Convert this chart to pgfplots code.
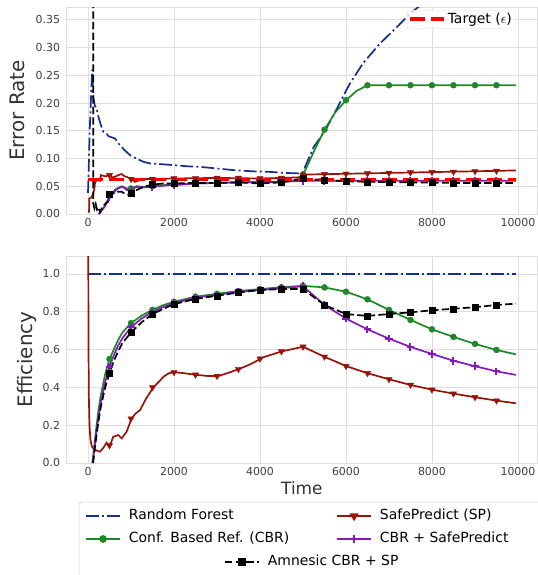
\documentclass[border=0pt]{standalone}
\usepackage{fontspec}
\setmainfont{DejaVu Sans}
\usepackage{pgfplots}
\pgfplotsset{compat=1.18}

\definecolor{rfblue}{RGB}{20,48,140}
\definecolor{cbrgreen}{RGB}{30,135,40}
\definecolor{spred}{RGB}{150,20,10}
\definecolor{cbrsp}{RGB}{135,25,185}
\definecolor{gridgray}{RGB}{222,222,222}

\pgfplotsset{
  panel/.style={
    scale only axis, width=470.6bp, height=207bp,
    xmin=-497.5, xmax=10447.5,
    xtick={0,2000,...,10000},
    scaled x ticks=false, scaled y ticks=false,
    grid=major, grid style={draw=gridgray, line width=0.9bp},
    axis line style={draw=gridgray, line width=0.9bp},
    major tick length=0pt,
    tick label style={font=\fontsize{11}{13}\selectfont, text=black!75},
    /pgf/number format/assume math mode=true,
    /pgf/number format/set thousands separator={},
    xticklabel style={yshift=-1bp, /pgf/number format/fixed},
    yticklabel style={xshift=-3bp},
  },
  ylab/.style={every axis y label/.style={at={(axis description cs:#1,0.5)}, rotate=90, anchor=center,
      font=\fontsize{20}{24}\selectfont, text=black!80}},
  rf/.style={rfblue, line width=1.7bp, dash pattern=on 12.8bp off 3.2bp on 2bp off 3.2bp},
  cbr/.style={cbrgreen, line width=1.7bp},
  sp/.style={spred, line width=1.7bp},
  csp/.style={cbrsp, line width=1.7bp},
  amn/.style={black, line width=1.7bp, dash pattern=on 7.4bp off 3.2bp},
  mcbr/.style={cbrgreen, only marks, mark=*, mark size=3bp},
  msp/.style={spred, only marks, mark=triangle*, mark size=3.6bp, mark options={rotate=180}},
  mcsp/.style={cbrsp, only marks, mark=+, mark size=3.8bp, mark options={line width=2bp}},
  mamn/.style={black, only marks, mark=square*, mark size=3bp},
  legimg/.style={legend image code/.code={\draw[mark repeat=2,mark phase=2,##1] plot coordinates {(0bp,0bp) (17bp,0bp) (34bp,0bp)};}},
}

\begin{document}
\begin{tikzpicture}

% ---- top panel: error rate
\begin{axis}[panel, legimg, ylab=-0.105, at={(66.6bp,-214bp)}, anchor=south west,
  ymin=0, ymax=0.373, ytick={0,0.05,...,0.35},
  yticklabel style={/pgf/number format/fixed, /pgf/number format/fixed zerofill, /pgf/number format/precision=2},
  ylabel={Error Rate},
  legend style={at={(0.7233,0.9855)}, anchor=north west, draw=gridgray, fill=white, fill opacity=0.8, text opacity=1,
    rounded corners=2bp, font=\fontsize{14}{16}\selectfont, inner sep=1bp},
]
\addplot[rf, forget plot] coordinates {(0,0.038) (15,0.075) (40,0.15) (60,0.19) (80,0.23) (100,0.26) (115,0.225) (125,0.21) (160,0.195) (200,0.19) (240,0.176) (300,0.16) (360,0.148) (420,0.146) (480,0.14) (560,0.138) (630,0.136) (700,0.128) (780,0.121) (850,0.115) (980,0.106) (1100,0.101) (1290,0.094) (1450,0.091) (1670,0.090) (2000,0.088) (2300,0.086) (2600,0.085) (3000,0.082) (3400,0.079) (3800,0.077) (4200,0.076) (4600,0.074) (4950,0.073) (5000,0.076) (5250,0.121) (5500,0.148) (5750,0.184) (6000,0.222) (6100,0.236) (6400,0.272) (6800,0.308) (7200,0.338) (7500,0.362) (7800,0.380) (8500,0.41) (9950,0.46)};

\addplot[cbr, forget plot] coordinates {(260,0) (330,0.008) (430,0.02) (500,0.033) (540,0.037) (650,0.045) (783,0.050) (900,0.046) (1000,0.046) (1130,0.050) (1300,0.049) (1500,0.050) (1900,0.053) (2000,0.053) (2500,0.055) (3000,0.056) (3500,0.057) (4000,0.058) (4500,0.058) (4950,0.060) (5000,0.070) (5250,0.112) (5500,0.152) (5750,0.183) (6000,0.205) (6250,0.222) (6500,0.232) (9950,0.232)};
\addplot[mcbr, forget plot] coordinates {(500,0.033) (1000,0.046) (1500,0.050) (2000,0.053) (2500,0.055) (3000,0.056) (3500,0.057) (4000,0.058) (4500,0.058) (5000,0.070) (5500,0.152) (6000,0.205) (6500,0.232) (7000,0.232) (7500,0.232) (8000,0.232) (8500,0.232) (9000,0.232) (9500,0.232)};

\addplot[sp, forget plot] coordinates {(0,0.004) (25,0.004) (30,0.028) (80,0.030) (120,0.036) (150,0.046) (165,0.058) (200,0.060) (240,0.061) (280,0.060) (300,0.070) (400,0.068) (512,0.070) (560,0.066) (628,0.067) (700,0.070) (783,0.072) (850,0.068) (900,0.067) (1000,0.063) (1093,0.058) (1200,0.061) (1287,0.063) (1500,0.063) (2000,0.064) (3000,0.065) (4000,0.064) (4500,0.065) (4900,0.066) (5000,0.071) (6000,0.0725) (7000,0.074) (8000,0.0755) (9000,0.077) (9950,0.0785)};
\addplot[msp, forget plot] coordinates {(500,0.070) (1000,0.063) (1500,0.063) (2000,0.064) (2500,0.064) (3000,0.065) (3500,0.065) (4000,0.064) (4500,0.065) (5000,0.071) (5500,0.0718) (6000,0.0725) (6500,0.073) (7000,0.074) (7500,0.0748) (8000,0.0755) (8500,0.076) (9000,0.077) (9500,0.0778)};

\addplot[csp, forget plot] coordinates {(240,0) (280,0.002) (320,0.007) (380,0.012) (430,0.019) (480,0.028) (500,0.030) (540,0.035) (590,0.037) (650,0.043) (705,0.046) (783,0.049) (850,0.047) (900,0.043) (1000,0.044) (1130,0.049) (1300,0.048) (1440,0.049) (1500,0.049) (1900,0.052) (2000,0.052) (2500,0.055) (3000,0.056) (3500,0.057) (4000,0.057) (4500,0.058) (5000,0.060) (9950,0.060)};
\addplot[mcsp, forget plot] coordinates {(500,0.030) (1000,0.044) (1500,0.049) (2000,0.052) (2500,0.055) (3000,0.056) (3500,0.057) (4000,0.057) (4500,0.058) (5000,0.060) (5500,0.060) (6000,0.060) (6500,0.060) (7000,0.060) (7500,0.060) (8000,0.060) (8500,0.060) (9000,0.060) (9500,0.060)};

\addplot[amn, forget plot] coordinates {(120,0.9) (120,0.02) (150,0.010) (180,0.018) (210,0.008) (240,0.012) (280,0.004) (320,0.010) (360,0.015) (420,0.020) (470,0.022) (500,0.035) (560,0.037) (620,0.038) (700,0.040) (783,0.040) (850,0.037) (977,0.034) (1000,0.037) (1100,0.042) (1209,0.046) (1350,0.050) (1500,0.053) (1750,0.055) (2000,0.055) (2500,0.056) (3000,0.056) (3500,0.057) (4000,0.055) (4500,0.057) (5000,0.064) (5500,0.061) (6000,0.059) (6500,0.058) (7500,0.057) (8500,0.056) (9950,0.056)};
\addplot[mamn, forget plot] coordinates {(500,0.035) (1000,0.037) (1500,0.053) (2000,0.055) (2500,0.056) (3000,0.056) (3500,0.057) (4000,0.055) (4500,0.057) (5000,0.064) (5500,0.061) (6000,0.059) (6500,0.058) (7000,0.058) (7500,0.057) (8000,0.057) (8500,0.056) (9000,0.056) (9500,0.056)};

% target
\addplot[red, line width=3.6bp, dash pattern=on 15bp off 6bp] coordinates {(0,0.062) (9950,0.062)};
\addlegendentry{Target ($\epsilon$)\hspace{12bp}}
\end{axis}

% ---- bottom panel: efficiency
\begin{axis}[panel, ylab=-0.084, at={(66.6bp,-463bp)}, anchor=south west,
  ymin=0, ymax=1.095, ytick={0,0.2,...,1.0},
  yticklabel style={/pgf/number format/fixed, /pgf/number format/fixed zerofill, /pgf/number format/precision=1},
  ylabel={Efficiency},
  xlabel={Time},
  every axis x label/.style={at={(axis description cs:0.5,0)}, yshift=-25bp, anchor=center,
    font=\fontsize{17}{20}\selectfont, text=black!80},
]
\addplot[rf] coordinates {(0,1) (9950,1)};

\addplot[cbr] coordinates {(100,0) (150,0.1) (200,0.2) (250,0.29) (300,0.36) (400,0.47) (500,0.55) (600,0.6) (700,0.65) (800,0.69) (1000,0.74) (1250,0.78) (1500,0.81) (1750,0.835) (2000,0.853) (2500,0.88) (3000,0.895) (3500,0.91) (4000,0.92) (4500,0.93) (5000,0.937) (5500,0.929) (6000,0.906) (6500,0.866) (7000,0.81) (7500,0.757) (8000,0.707) (8500,0.667) (9000,0.63) (9500,0.598) (9950,0.575)};
\addplot[mcbr] coordinates {(500,0.55) (1000,0.74) (1500,0.81) (2000,0.853) (2500,0.88) (3000,0.895) (3500,0.91) (4000,0.92) (4500,0.93) (5000,0.937) (5500,0.929) (6000,0.906) (6500,0.866) (7000,0.81) (7500,0.757) (8000,0.707) (8500,0.667) (9000,0.63) (9500,0.598)};

\addplot[sp] coordinates {(0,1.3) (8,1.0) (12,0.6) (20,0.35) (35,0.2) (55,0.13) (80,0.095) (105,0.082) (163,0.069) (279,0.060) (356,0.08) (434,0.107) (480,0.09) (512,0.095) (589,0.139) (705,0.148) (783,0.13) (899,0.166) (1015,0.236) (1100,0.26) (1210,0.28) (1350,0.34) (1520,0.40) (1650,0.43) (1760,0.457) (1880,0.475) (1993,0.48) (2200,0.476) (2535,0.466) (2800,0.46) (3039,0.46) (3300,0.48) (3543,0.50) (3800,0.525) (4085,0.56) (4500,0.59) (5000,0.615) (5500,0.562) (6000,0.513) (6500,0.475) (7000,0.443) (7500,0.413) (8000,0.388) (8500,0.367) (9000,0.348) (9500,0.33) (9950,0.316)};
\addplot[msp] coordinates {(500,0.093) (1000,0.235) (1500,0.40) (2000,0.48) (2500,0.467) (3000,0.46) (3500,0.497) (4000,0.552) (4500,0.59) (5000,0.615) (5500,0.562) (6000,0.513) (6500,0.475) (7000,0.443) (7500,0.413) (8000,0.388) (8500,0.367) (9000,0.348) (9500,0.33)};

\addplot[csp] coordinates {(110,0) (150,0.08) (200,0.17) (250,0.25) (300,0.32) (400,0.43) (500,0.51) (600,0.57) (700,0.62) (800,0.66) (1000,0.718) (1250,0.765) (1500,0.80) (1750,0.825) (2000,0.845) (2500,0.875) (3000,0.89) (3500,0.905) (4000,0.915) (4500,0.925) (5000,0.935) (5500,0.836) (6000,0.764) (6500,0.707) (7000,0.658) (7500,0.614) (8000,0.577) (8500,0.541) (9000,0.512) (9500,0.485) (9950,0.466)};
\addplot[mcsp] coordinates {(500,0.51) (1000,0.718) (1500,0.80) (2000,0.845) (2500,0.875) (3000,0.89) (3500,0.905) (4000,0.915) (4500,0.925) (5000,0.935) (5500,0.836) (6000,0.764) (6500,0.707) (7000,0.658) (7500,0.614) (8000,0.577) (8500,0.541) (9000,0.512) (9500,0.485)};

\addplot[amn] coordinates {(120,0) (150,0.06) (200,0.15) (250,0.23) (300,0.3) (400,0.40) (500,0.475) (600,0.54) (700,0.59) (800,0.635) (1000,0.69) (1250,0.745) (1500,0.788) (1750,0.815) (2000,0.84) (2500,0.868) (3000,0.885) (3500,0.902) (4000,0.915) (4500,0.92) (5000,0.92) (5500,0.836) (6000,0.788) (6500,0.778) (7000,0.788) (7500,0.797) (8000,0.808) (8500,0.816) (9000,0.824) (9500,0.836) (9950,0.843)};
\addplot[mamn] coordinates {(500,0.475) (1000,0.69) (1500,0.788) (2000,0.84) (2500,0.868) (3000,0.885) (3500,0.902) (4000,0.915) (4500,0.92) (5000,0.92) (5500,0.836) (6000,0.788) (6500,0.778) (7000,0.788) (7500,0.797) (8000,0.808) (8500,0.816) (9000,0.824) (9500,0.836)};
\end{axis}

% ---- shared legend
\draw[gridgray, fill=white, line width=0.9bp, rounded corners=3bp] (79bp,-502bp) rectangle (548bp,-585bp);

\begin{axis}[hide axis, legimg, scale only axis, width=1bp, height=1bp, xmin=0, xmax=1, ymin=0, ymax=1,
  at={(85bp,-507bp)}, anchor=north west,
  legend columns=2, legend cell align=left,
  legend style={at={(0,1)}, anchor=north west, draw=none, fill=none, inner sep=0pt, row sep=5.5bp,
    font=\fontsize{14}{16}\selectfont,
    nodes={text height=10.5bp, text depth=3bp, inner ysep=2bp, inner xsep=2bp},
    /tikz/every odd column/.append style={column sep=6bp},
    /tikz/every even column/.append style={column sep=45bp}},
]
\addlegendimage{rf}\addlegendentry{Random Forest}
\addlegendimage{sp, mark=triangle*, mark size=3.6bp, mark options={rotate=180}}\addlegendentry{SafePredict (SP)}
\addlegendimage{cbr, mark=*, mark size=3bp}\addlegendentry{Conf. Based Ref. (CBR)}
\addlegendimage{csp, mark=+, mark size=3.8bp, mark options={line width=2bp}}\addlegendentry{CBR + SafePredict}
\end{axis}

\begin{axis}[hide axis, legimg, scale only axis, width=1bp, height=1bp, xmin=0, xmax=1, ymin=0, ymax=1,
  at={(224bp,-553bp)}, anchor=north west,
  legend style={at={(0,1)}, anchor=north west, draw=none, fill=none, inner sep=0pt,
    font=\fontsize{14}{16}\selectfont,
    nodes={text height=10.5bp, text depth=3bp, inner ysep=2bp, inner xsep=2bp},
    /tikz/every odd column/.append style={column sep=6bp}},
]
\addlegendimage{amn, dash pattern=on 7.4bp off 3.2bp, mark=square*, mark size=3bp, mark options={solid}}\addlegendentry{Amnesic CBR + SP}
\end{axis}

\pgfresetboundingbox
\path (0,0) rectangle (538bp,-575bp);
\end{tikzpicture}
\end{document}
